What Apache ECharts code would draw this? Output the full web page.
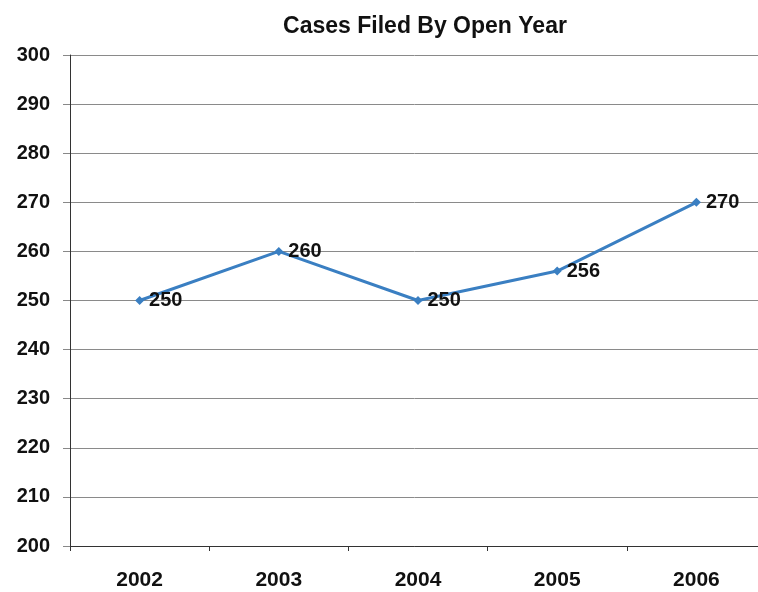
<!DOCTYPE html>
<html>
<head>
<meta charset="utf-8">
<script src="https://cdn.jsdelivr.net/npm/echarts@6/dist/echarts.min.js"></script>
<style>
  html, body {margin: 0; padding: 0; background: #fff;}
  #chart {width: 758px; height: 592px;}
</style>
</head>
<body>
<div id="chart"></div>
<script>
const years = ['2002', '2003', '2004', '2005', '2006'];
const cases = [250, 260, 250, 256, 270];

const font = 'Liberation Sans, Arial, sans-serif';
const myChart = echarts.init(document.getElementById('chart'));
myChart.setOption({
    animation: false,
    title: {
        text: 'Cases Filed By Open Year',
        left: 420,
        top: 10,
        textAlign: 'center',
        textStyle: {fontFamily: font, fontSize: 23, fontWeight: 'bold', color: '#111'}
    },
    // plot runs past the right edge of the picture, as in the original
    grid: {left: 70, width: 696, top: 55, bottom: 46, outerBoundsMode: 'none'},
    xAxis: {
        type: 'category',
        data: years,
        boundaryGap: true,
        axisLine: {lineStyle: {color: '#333', width: 1}},
        axisTick: {show: true, length: 5, lineStyle: {color: '#333'}},
        axisLabel: {margin: 24, fontFamily: font, fontSize: 21, fontWeight: 'bold', color: '#111'}
    },
    yAxis: {
        type: 'value',
        min: 200,
        max: 300,
        interval: 10,
        axisLine: {show: true, lineStyle: {color: '#333', width: 1}},
        axisTick: {show: true, length: 7, lineStyle: {color: '#888'}},
        axisLabel: {margin: 20, fontFamily: font, fontSize: 20, fontWeight: 'bold', color: '#111'},
        splitLine: {lineStyle: {color: '#8a8a8a', width: 1}}
    },
    series: [{
        type: 'line',
        data: cases,
        symbol: 'diamond',
        symbolSize: 9,
        itemStyle: {color: '#3a7fc2'},
        lineStyle: {color: '#3a7fc2', width: 3},
        label: {
            show: true,
            position: 'right',
            distance: 5,
            fontFamily: font,
            fontSize: 20,
            fontWeight: 'bold',
            color: '#111'
        }
    }]
});
</script>
</body>
</html>
